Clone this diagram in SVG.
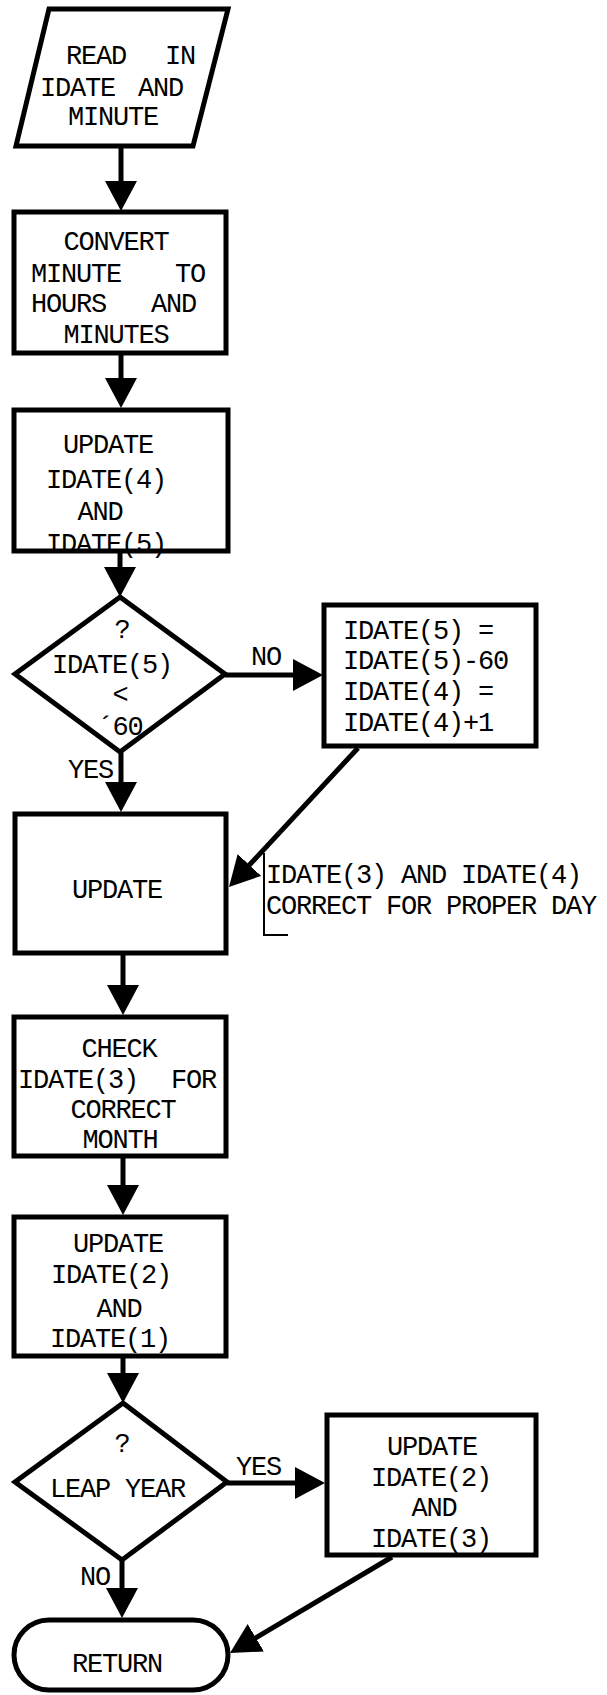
<svg xmlns="http://www.w3.org/2000/svg" width="607" height="1695" viewBox="0 0 607 1695">
<style>
.n{fill:#fff;stroke:#000;stroke-width:5;stroke-linejoin:miter}
.c{fill:none;stroke:#000;stroke-width:5}
.t{font-family:"Liberation Mono","DejaVu Sans Mono",monospace;font-size:27px;letter-spacing:-1.2px;fill:#000}
.m{text-anchor:middle}
.b{fill:none;stroke:#000;stroke-width:2}
</style>
<defs>
<marker id="ah" viewBox="0 0 30 32" refX="15" refY="16" markerWidth="30" markerHeight="32" markerUnits="userSpaceOnUse" orient="auto">
<path d="M0,0 L30,16 L0,32 z" fill="#000"/>
</marker>
</defs>
<rect width="607" height="1695" fill="#fff"/>
<g id="connectors">
<line class="c" x1="121" y1="148" x2="121" y2="196" marker-end="url(#ah)"/>
<line class="c" x1="121" y1="355" x2="121" y2="393" marker-end="url(#ah)"/>
<line class="c" x1="120" y1="553" x2="120" y2="582" marker-end="url(#ah)"/>
<line class="c" x1="225" y1="675" x2="308" y2="675" marker-end="url(#ah)"/>
<line class="c" x1="358" y1="748" x2="239.2" y2="876" marker-end="url(#ah)"/>
<line class="c" x1="121" y1="752" x2="121" y2="797" marker-end="url(#ah)"/>
<line class="c" x1="123" y1="955" x2="123" y2="1000" marker-end="url(#ah)"/>
<line class="c" x1="123" y1="1158" x2="123" y2="1200" marker-end="url(#ah)"/>
<line class="c" x1="123" y1="1358" x2="123" y2="1388" marker-end="url(#ah)"/>
<line class="c" x1="227" y1="1483" x2="310" y2="1483" marker-end="url(#ah)"/>
<line class="c" x1="122" y1="1560" x2="122" y2="1603" marker-end="url(#ah)"/>
<line class="c" x1="392" y1="1557" x2="242.9" y2="1645.4" marker-end="url(#ah)"/>
<text class="t" x="251" y="665">NO</text>
<text class="t" x="68" y="778">YES</text>
<text class="t" x="236" y="1475">YES</text>
<text class="t" x="80" y="1585">NO</text>
</g>
<g id="read">
<polygon class="n" points="49,9 228,9 193,146 16,146"/>
<text class="t" x="66" y="64">READ <tspan x="165">IN</tspan></text>
<text class="t" x="40" y="96">IDATE <tspan x="138">AND</tspan></text>
<text class="t m" x="113" y="125">MINUTE</text>
</g>
<g id="convert">
<rect class="n" x="14" y="212" width="212" height="141"/>
<text class="t m" x="116" y="250">CONVERT</text>
<text class="t" x="31" y="282">MINUTE <tspan x="175">TO</tspan></text>
<text class="t" x="31" y="312">HOURS <tspan x="151">AND</tspan></text>
<text class="t m" x="116" y="343">MINUTES</text>
</g>
<g id="update45">
<rect class="n" x="14" y="410" width="214" height="141"/>
<text class="t m" x="108" y="453">UPDATE</text>
<text class="t m" x="106" y="488">IDATE(4)</text>
<text class="t m" x="100" y="520">AND</text>
<text class="t m" x="106" y="552">IDATE(5)</text>
</g>
<g id="dec1">
<polygon class="n" points="120,597 225,674 120,752 15,674"/>
<text class="t m" x="122" y="638">?</text>
<text class="t m" x="112" y="673">IDATE(5)</text>
<text class="t m" x="120" y="703">&lt;</text>
<text class="t m" x="120" y="735">´60</text>
</g>
<g id="adjust">
<rect class="n" x="324" y="605" width="212" height="141"/>
<text class="t" x="343" y="639">IDATE(5) =</text>
<text class="t" x="343" y="669">IDATE(5)-60</text>
<text class="t" x="343" y="700">IDATE(4) =</text>
<text class="t" x="343" y="731">IDATE(4)+1</text>
</g>
<g id="update">
<rect class="n" x="15" y="814" width="211" height="139"/>
<text class="t m" x="117" y="898">UPDATE</text>
</g>
<g id="note">
<path class="b" d="M264,853 V935 H288"/>
<text class="t" x="266" y="883">IDATE(3) AND IDATE(4)</text>
<text class="t" x="266" y="914">CORRECT FOR PROPER DAY</text>
</g>
<g id="check">
<rect class="n" x="14" y="1017" width="212" height="139"/>
<text class="t m" x="119" y="1057">CHECK</text>
<text class="t" x="18" y="1088">IDATE(3) <tspan x="171">FOR</tspan></text>
<text class="t m" x="123" y="1118">CORRECT</text>
<text class="t m" x="120" y="1148">MONTH</text>
</g>
<g id="update21">
<rect class="n" x="14" y="1217" width="212" height="139"/>
<text class="t m" x="118" y="1252">UPDATE</text>
<text class="t m" x="111" y="1283">IDATE(2)</text>
<text class="t m" x="119" y="1317">AND</text>
<text class="t m" x="110" y="1347">IDATE(1)</text>
</g>
<g id="dec2">
<polygon class="n" points="123,1403 227,1482 122,1560 15,1482"/>
<text class="t m" x="122" y="1452">?</text>
<text class="t" x="50" y="1497">LEAP YEAR</text>
</g>
<g id="update23">
<rect class="n" x="327" y="1415" width="209" height="140"/>
<text class="t m" x="432" y="1455">UPDATE</text>
<text class="t m" x="431" y="1486">IDATE(2)</text>
<text class="t m" x="434" y="1516">AND</text>
<text class="t m" x="431" y="1547">IDATE(3)</text>
</g>
<g id="return">
<rect class="n" x="14" y="1620" width="214" height="70" rx="35" ry="35"/>
<text class="t m" x="117" y="1672">RETURN</text>
</g>
</svg>
